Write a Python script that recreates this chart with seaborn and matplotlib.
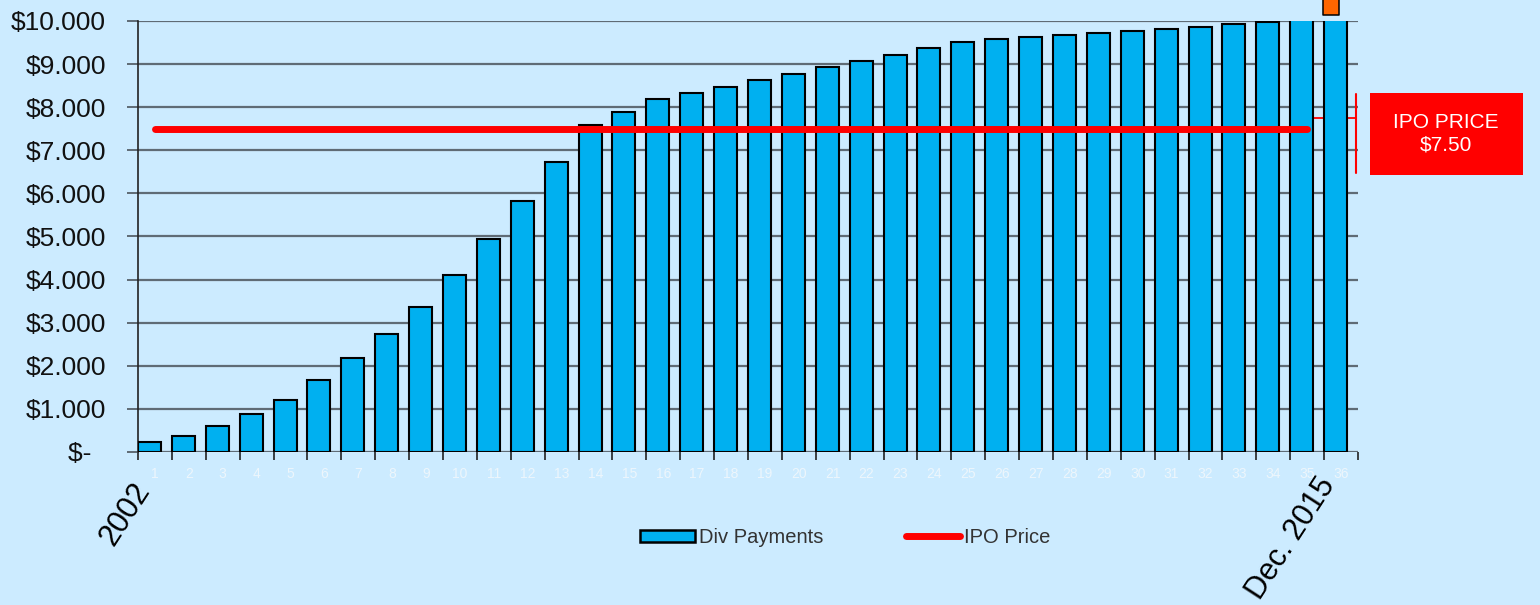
import numpy as np
import pandas as pd
import matplotlib.pyplot as plt
import matplotlib.patches as mpatches
from matplotlib.lines import Line2D
import seaborn as sns

# data
periods = list(range(1, 37))
div_payments = [240, 370, 610, 880, 1200, 1670, 2180, 2740, 3360, 4110,
                4940, 5820, 6730, 7590, 7890, 8190, 8330, 8470, 8630, 8770,
                8930, 9070, 9210, 9370, 9510, 9580, 9630, 9680, 9720, 9770,
                9810, 9860, 9930, 9980, 10050, 10200]
ipo_periods = list(range(1, 36))
ipo_price = [7500] * len(ipo_periods)
marker_period = [36]
marker_value = [10330]
ytick_vals = [0, 1000, 2000, 3000, 4000, 5000, 6000, 7000, 8000, 9000, 10000]
ytick_labels = ['$-  ', '$1.000', '$2.000', '$3.000', '$4.000', '$5.000',
                '$6.000', '$7.000', '$8.000', '$9.000', '$10.000']

bg = '#CCEBFF'
bar_color = '#00B0F0'

sns.set_style('white')
plt.rcParams['font.family'] = ['Liberation Sans', 'DejaVu Sans']

fig = plt.figure(figsize=(15.4, 6.05), dpi=100, facecolor=bg)
ax = fig.add_axes([0.0896, 0.2529, 0.7922, 0.7124])
ax.set_facecolor(bg)

df = pd.DataFrame({'period': periods, 'div': div_payments})
bar_w = 0.68
shift = -(1 - bar_w) / 2
sns.barplot(data=df, x='period', y='div', color=bar_color, width=bar_w,
            edgecolor='black', linewidth=1.5, saturation=1, ax=ax, zorder=3)
for p in ax.patches:
    p.set_x(p.get_x() + shift)

# IPO price line (positions on the category axis are index-based)
ipo_df = pd.DataFrame({'x': [p - 1 for p in ipo_periods], 'y': ipo_price})
sns.lineplot(data=ipo_df, x='x', y='y', color='#FF0000', linewidth=5,
             solid_capstyle='round', ax=ax, zorder=4)

mk_df = pd.DataFrame({'x': [p - 1.3 for p in marker_period], 'y': marker_value})
sns.scatterplot(data=mk_df, x='x', y='y', marker='s', s=125, color='#FF6600',
                edgecolor='black', linewidth=1.1, ax=ax, clip_on=False, zorder=6)

# bracket next to the last bars
ax.plot([34.2, 35.45], [7750, 7750], color='#FF0000', lw=1.3, clip_on=False, zorder=2)
ax.plot([35.45, 35.45], [6470, 8310], color='#FF0000', lw=1.5, clip_on=False, zorder=2)

ax.set_xlim(-0.5, 35.5)
ax.set_ylim(0, 10000)
ax.set_yticks(ytick_vals)
ax.set_yticklabels(ytick_labels, fontsize=19, color='#111111')
ax.yaxis.grid(True, color='#5f6b75', linewidth=1.6, zorder=0)
ax.set_axisbelow(True)
ax.tick_params(axis='y', length=8, width=1.4, color='#5f6b75', pad=15, left=True)

ax.set_xticks(range(36))
ax.set_xticklabels([str(p) for p in periods], fontsize=10, color='#EDF6FC')
ax.set_xticks(np.arange(-0.5, 36, 1), minor=True)
ax.tick_params(axis='x', which='major', length=0, pad=11)
ax.tick_params(axis='x', which='minor', length=6, width=1.2, color='#222222', bottom=True)
ax.set_xlabel('')
ax.set_ylabel('')

for s in ['top', 'right', 'bottom']:
    ax.spines[s].set_visible(False)
ax.spines['left'].set_color('#222222')
ax.spines['left'].set_linewidth(1.2)

trans = ax.get_xaxis_transform()
ax.text(0.05, -0.058, '2002', rotation=57, ha='right', va='top', fontsize=22,
        color='black', transform=trans)
ax.text(35.0, -0.046, 'Dec. 2015', rotation=57, ha='right', va='top', fontsize=22,
        color='black', transform=trans)

handles = [mpatches.Patch(facecolor=bar_color, edgecolor='black', linewidth=1.8),
           Line2D([0], [0], color='#FF0000', linewidth=5, solid_capstyle='round')]
fig.legend(handles, ['Div Payments', 'IPO Price'], loc='center', bbox_to_anchor=(0.549, 0.112),
           ncol=2, frameon=False, fontsize=14.5, handlelength=2.7, handleheight=0.55,
           handletextpad=0.2, columnspacing=4.1, labelcolor='#333333')

# IPO price box
fig.add_artist(mpatches.Rectangle((1370 / 1540, 1 - 175 / 605), 153 / 1540, 82 / 605,
                                  transform=fig.transFigure, facecolor='#FF0000',
                                  edgecolor='none'))
fig.text(1446 / 1540, 1 - 134 / 605, 'IPO PRICE\n$7.50', ha='center', va='center',
         color='white', fontsize=15, linespacing=1.2)

plt.savefig('out.png', dpi=100, facecolor=bg)
